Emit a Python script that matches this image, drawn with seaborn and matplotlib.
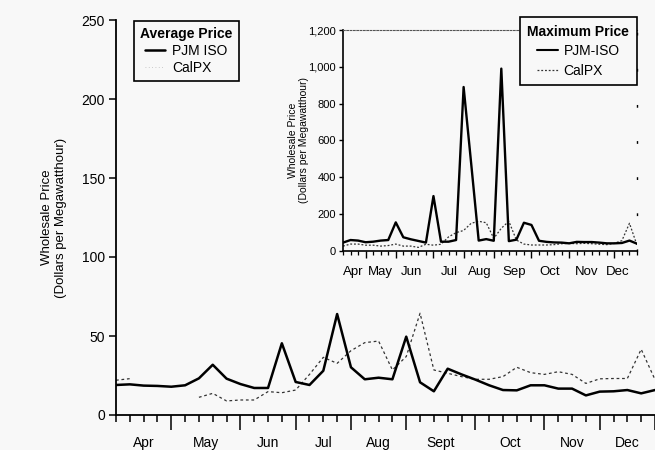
import numpy as np
import pandas as pd
import matplotlib
matplotlib.use("Agg")
import matplotlib.pyplot as plt
import seaborn as sns
from matplotlib.lines import Line2D

# ---------------- data (weekly, Apr .. Dec) ----------------
weeks = list(range(40))

pjm_avg = [19.0, 19.4, 18.6, 18.4, 17.9, 18.8, 23.2, 31.8, 23.0, 19.6,
           17.1, 17.1, 45.4, 20.9, 19.0, 28.0, 63.9, 30.2, 22.6, 23.6,
           22.6, 49.6, 20.7, 15.0, 29.3, 25.7, 22.4, 18.8, 15.8, 15.6,
           18.8, 18.8, 16.7, 16.7, 12.4, 14.8, 15.0, 15.8, 13.7, 15.8]

calpx_avg = [22.0, 23.0, np.nan, np.nan, np.nan, np.nan, 11.2, 13.7, 8.9, 9.5,
             9.5, 14.8, 14.1, 15.8, 25.7, 36.5, 32.7, 40.7, 45.8, 46.8,
             28.5, 37.0, 64.4, 28.5, 26.4, 24.3, 22.6, 22.6, 24.3, 30.2,
             26.8, 25.7, 27.4, 25.7, 20.0, 22.9, 23.1, 23.1, 41.6, 22.4]

pjm_max = [44, 58, 55, 46, 49, 55, 58, 154, 73, 62,
           53, 44, 297, 49, 49, 58, 890, 475, 55, 63,
           54, 990, 52, 60, 152, 140, 54, 48, 45, 44,
           40, 48, 47, 47, 44, 40, 40, 42, 55, 38]

calpx_max = [25, 36, 36, 30, 30, 25, 28, 36, 25, 25,
             18, 35, 30, 35, 75, 98, 110, 149, 160, 152,
             67, 122, 160, 58, 36, 31, 31, 31, 33, 38,
             40, 38, 40, 38, 35, 33, 40, 55, 149, 30]

month_labels = ["Apr", "May", "Jun", "Jul", "Aug", "Sept", "Oct", "Nov", "Dec"]
inset_month_labels = ["Apr", "May", "Jun", "Jul", "Aug", "Sep", "Oct", "Nov", "Dec"]
month_bounds = [0, 4, 9, 13, 17, 21, 26, 31, 35, 39]
inset_label_pos = [1.4, 5.0, 9.1, 14.1, 18.1, 22.7, 27.4, 32.3, 36.5]
inset_major = [3, 7, 12, 16, 20, 25, 30, 36]
avg_ticks = [0, 50, 100, 150, 200, 250]
max_ticks = [0, 200, 400, 600, 800, 1000, 1200]

avg_df = pd.DataFrame({"week": weeks, "PJM ISO": pjm_avg, "CalPX": calpx_avg})
max_df = pd.DataFrame({"week": weeks, "PJM-ISO": pjm_max, "CalPX": calpx_max})

# ---------------- style ----------------
sns.set_style("ticks")
plt.rcParams["font.family"] = ["Liberation Sans", "DejaVu Sans"]
plt.rcParams["axes.linewidth"] = 1.2
for k in ["text.color", "axes.labelcolor", "xtick.color", "ytick.color",
          "axes.edgecolor"]:
    plt.rcParams[k] = "black"
bg = "#f8f8f8"

fig = plt.figure(figsize=(6.55, 4.5), dpi=100, facecolor=bg)
W, H = 655, 450


def px_axes(l, t, r, b):
    return [l / W, (H - b) / H, (r - l) / W, (b - t) / H]


def draw_segments(ax, x, y, **kw):
    d = pd.DataFrame({"x": x, "y": y})
    grp = d["y"].isna().cumsum()
    for _, seg in d.dropna().groupby(grp[d["y"].notna()]):
        if len(seg) > 1:
            sns.lineplot(data=seg, x="x", y="y", ax=ax, estimator=None,
                         sort=False, legend=False, **kw)


# ---------------- main axes: average price ----------------
ax = fig.add_axes(px_axes(116, 20, 655, 415))
ax.set_facecolor("none")
draw_segments(ax, avg_df["week"], avg_df["CalPX"], color="#333333",
              lw=0.9, linestyle=(0, (2.2, 2.2)))
sns.lineplot(data=avg_df, x="week", y="PJM ISO", ax=ax, color="black",
             lw=1.8, estimator=None, legend=False)
ax.set_xlim(0, 39)
ax.set_ylim(0, 250)
sns.despine(ax=ax)
for s in ["left", "bottom"]:
    ax.spines[s].set_linewidth(1.3)
ax.set_yticks(avg_ticks)
ax.set_yticklabels([str(v) for v in avg_ticks])
ax.tick_params(axis="y", direction="out", length=5, width=1.1,
               labelsize=10, pad=3)
ax.set_xticks(month_bounds[1:])
ax.set_xticklabels([])
ax.set_xticks(weeks, minor=True)
ax.tick_params(axis="x", which="major", direction="out", length=11, width=1.1)
ax.tick_params(axis="x", which="minor", direction="out", length=5, width=1.1)
for i, lab in enumerate(month_labels):
    c = (month_bounds[i] + month_bounds[i + 1]) / 2
    ax.text(c, -0.052, lab, transform=ax.get_xaxis_transform(),
            ha="center", va="top", fontsize=10)
ax.set_xlabel("")
ax.set_ylabel("Wholesale Price\n(Dollars per Megawatthour)", fontsize=9.5,
              linespacing=1.3)
ax.yaxis.set_label_coords(-0.09, 0.5)

h_main = [Line2D([], [], color="black", lw=1.8),
          Line2D([], [], color="#bbbbbb", lw=0.6, linestyle=(0, (1, 3)))]
leg = ax.legend(h_main, ["PJM ISO", "CalPX"], title="Average Price",
                loc="upper left", bbox_to_anchor=(0.033, 0.997),
                borderaxespad=0, fontsize=10, title_fontsize=10,
                frameon=True, fancybox=False, shadow=False,
                handlelength=1.5, handletextpad=0.5, labelspacing=0.2,
                borderpad=0.45, facecolor=bg, framealpha=1)
leg.get_title().set_fontweight("bold")
leg.get_frame().set_edgecolor("black")
leg.get_frame().set_linewidth(1.2)

# ---------------- inset axes: maximum price ----------------
ax2 = fig.add_axes(px_axes(343, 30, 637, 250.7))
ax2.set_facecolor("none")
sns.lineplot(data=max_df, x="week", y="CalPX", ax=ax2, color="#333333",
             lw=0.9, linestyle=(0, (1.5, 1.5)), estimator=None, legend=False)
sns.lineplot(data=max_df, x="week", y="PJM-ISO", ax=ax2, color="black",
             lw=1.7, estimator=None, legend=False)
ax2.set_xlim(0, 39)
ax2.set_ylim(0, 1200)
ax2.spines["left"].set_linewidth(1.2)
ax2.spines["bottom"].set_linewidth(1.2)
ax2.spines["top"].set_linestyle((0, (1.5, 1.5)))
ax2.spines["top"].set_linewidth(0.8)
ax2.spines["top"].set_color("#555555")
ax2.spines["right"].set_linestyle((0, (1, 25)))
ax2.spines["right"].set_linewidth(1.0)
ax2.set_yticks(max_ticks)
ax2.set_yticklabels([f"{v:,}" for v in max_ticks])
ax2.tick_params(axis="y", direction="out", length=3, width=1.0,
                labelsize=8, pad=2)
ax2.set_xticks(inset_major)
ax2.set_xticklabels([])
ax2.set_xticks(weeks, minor=True)
ax2.tick_params(axis="x", which="major", direction="out", length=5, width=1.0)
ax2.tick_params(axis="x", which="minor", direction="out", length=3, width=0.9)
for p, lab in zip(inset_label_pos, inset_month_labels):
    ax2.text(p, -0.07, lab, transform=ax2.get_xaxis_transform(),
             ha="center", va="top", fontsize=9.5)
ax2.set_xlabel("")
ax2.set_ylabel("Wholesale Price\n(Dollars per Megawatthour)", fontsize=7.5,
               linespacing=1.15)
ax2.yaxis.set_label_coords(-0.115, 0.5)

h_max = [Line2D([], [], color="black", lw=1.5),
         Line2D([], [], color="#333333", lw=0.9, linestyle=(0, (1.5, 1.5)))]
leg2 = ax2.legend(h_max, ["PJM-ISO", "CalPX"], title="Maximum Price",
                  loc="upper right", bbox_to_anchor=(1.0, 1.059),
                  borderaxespad=0, fontsize=10, title_fontsize=10,
                  frameon=True, fancybox=False, shadow=False,
                  handlelength=1.5, handletextpad=0.4, labelspacing=0.4,
                  borderpad=0.55, facecolor=bg, framealpha=1)
leg2.get_title().set_fontweight("bold")
leg2.get_frame().set_edgecolor("black")
leg2.get_frame().set_linewidth(1.2)

fig.savefig("out.png", dpi=100, facecolor=bg)
